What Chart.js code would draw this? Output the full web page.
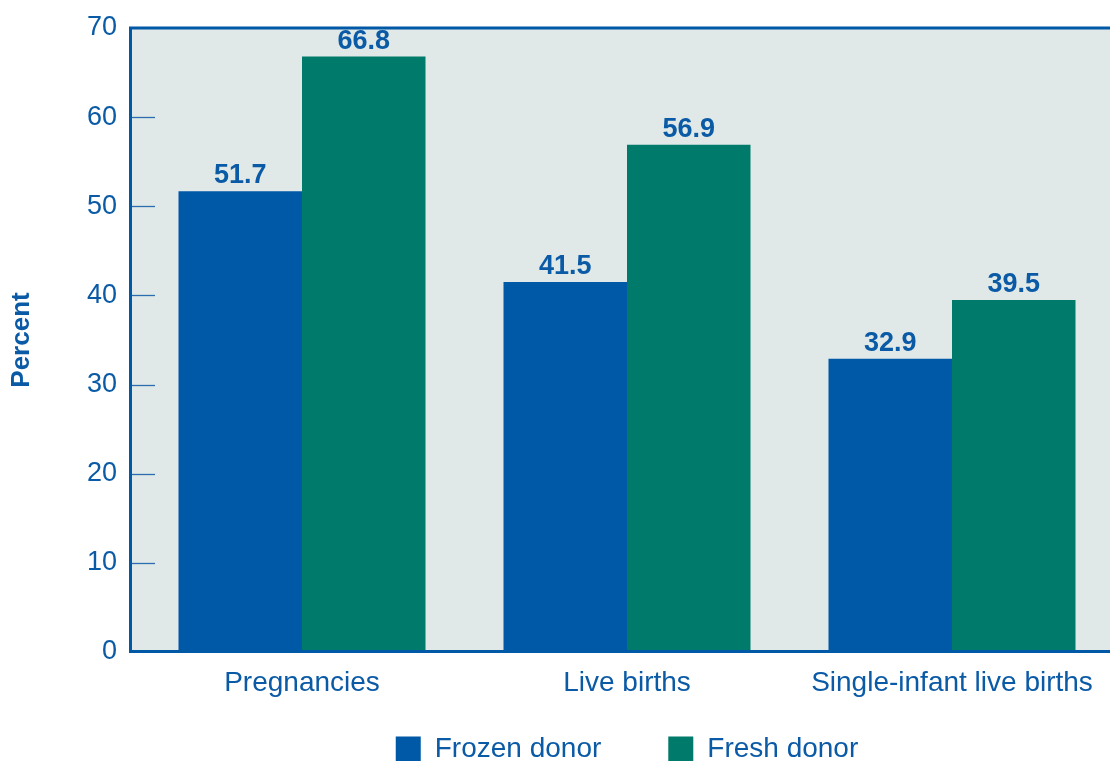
<!DOCTYPE html>
<html>
<head>
<meta charset="utf-8">
<title>Donor egg outcomes</title>
<script src="https://cdn.jsdelivr.net/npm/chart.js@4"></script>
<style>
  html, body { margin: 0; padding: 0; background: #ffffff; overflow: hidden; }
  #wrap { position: relative; width: 1120px; height: 761px; }
</style>
</head>
<body>
<div id="wrap"><canvas id="chart"></canvas></div>
<script>
// Outcome categories and rates (percent) per embryo source
const categories = ['Pregnancies', 'Live births', 'Single-infant live births'];
const frozenDonor = [51.7, 41.5, 32.9];
const freshDonor = [66.8, 56.9, 39.5];
const seriesNames = ['Frozen donor', 'Fresh donor'];
const yTickValues = [0, 10, 20, 30, 40, 50, 60, 70];

// Palette
const BLUE = '#0059a7';
const GREEN = '#007a6b';
const TEXT_BLUE = '#0a5aa6';
const PANEL = '#e0e9e7';
const FONT = '"Liberation Sans", Arial, Helvetica, sans-serif';

// Frame geometry relative to the chart area
const FRAME_INSET = 9;     // axis line sits a little left of the first category band
const AXIS_WIDTH = 3;
const TICK_LEN = 23;

const framePlugin = {
  id: 'plotFrame',
  beforeDatasetsDraw(chart) {
    const { ctx, chartArea: a, scales: { y } } = chart;
    const left = a.left - FRAME_INSET;
    ctx.save();
    ctx.fillStyle = PANEL;
    ctx.fillRect(left, a.top, chart.width - left, a.bottom - a.top);
    // inward tick marks on the value axis
    ctx.strokeStyle = '#2c6cb0';
    ctx.lineWidth = 1.3;
    yTickValues.forEach(v => {
      if (v === y.min || v === y.max) return;
      const py = Math.round(y.getPixelForValue(v)) + 0.5;
      ctx.beginPath();
      ctx.moveTo(left, py);
      ctx.lineTo(left + AXIS_WIDTH / 2 + TICK_LEN, py);
      ctx.stroke();
    });
    ctx.restore();
  },
  afterDatasetsDraw(chart) {
    const { ctx, chartArea: a } = chart;
    const left = a.left - FRAME_INSET;
    ctx.save();
    ctx.strokeStyle = BLUE;
    ctx.lineWidth = AXIS_WIDTH;
    ctx.lineCap = 'square';
    ctx.beginPath();
    ctx.moveTo(chart.width + 2, a.top);
    ctx.lineTo(left, a.top);
    ctx.lineTo(left, a.bottom - 0.5);
    ctx.lineTo(chart.width + 2, a.bottom - 0.5);
    ctx.stroke();
    ctx.restore();
  }
};

// Category names under each bar group, placed by the category scale
const categoryLabelPlugin = {
  id: 'categoryLabels',
  afterDraw(chart) {
    const { ctx, chartArea: a, scales: { x } } = chart;
    ctx.save();
    ctx.font = '28px ' + FONT;
    ctx.fillStyle = TEXT_BLUE;
    ctx.textAlign = 'center';
    ctx.textBaseline = 'alphabetic';
    categories.forEach((name, i) => {
      ctx.fillText(name, x.getPixelForValue(i), a.bottom + 39);
    });
    ctx.restore();
  }
};

const valueLabelPlugin = {
  id: 'valueLabels',
  afterDatasetsDraw(chart) {
    const { ctx } = chart;
    ctx.save();
    ctx.font = 'bold 27px ' + FONT;
    ctx.fillStyle = TEXT_BLUE;
    ctx.textAlign = 'center';
    ctx.textBaseline = 'alphabetic';
    chart.data.datasets.forEach((ds, di) => {
      const meta = chart.getDatasetMeta(di);
      meta.data.forEach((bar, i) => {
        ctx.fillText(ds.data[i].toFixed(1), bar.x, bar.y - 8);
      });
    });
    ctx.restore();
  }
};

new Chart(document.getElementById('chart'), {
  type: 'bar',
  data: {
    labels: categories,
    datasets: [
      { label: seriesNames[0], data: frozenDonor, backgroundColor: BLUE, borderWidth: 0 },
      { label: seriesNames[1], data: freshDonor, backgroundColor: GREEN, borderWidth: 0 }
    ]
  },
  options: {
    responsive: true,
    maintainAspectRatio: false,
    animation: false,
    events: [],
    datasets: { bar: { categoryPercentage: 0.76, barPercentage: 1.0 } },
    layout: { padding: { top: 28, right: 5.5, left: 0, bottom: 0 } },
    scales: {
      x: {
        type: 'category',
        grid: { display: false, drawTicks: false },
        border: { display: false },
        ticks: { display: false },
        afterFit(scale) { scale.height = 16; }
      },
      y: {
        min: 0,
        max: 70,
        grid: { display: false, drawTicks: false },
        border: { display: false },
        afterBuildTicks(scale) { scale.ticks = yTickValues.map(v => ({ value: v })); },
        ticks: {
          color: TEXT_BLUE,
          font: { family: FONT, size: 27 },
          padding: 22.5
        },
        title: {
          display: true,
          text: 'Percent',
          color: TEXT_BLUE,
          font: { family: FONT, size: 26, weight: 'bold' },
          padding: { top: 6, bottom: 0 }
        },
        afterFit(scale) {
          scale.width = 139.5;
          // the top and bottom labels may overhang the plot edges
          scale.paddingTop = 0;
          scale.paddingBottom = 0;
        }
      }
    },
    plugins: {
      legend: {
        position: 'bottom',
        fullSize: false,
        maxHeight: 93,
        labels: {
          boxWidth: 25,
          boxHeight: 25,
          padding: 67,
          color: TEXT_BLUE,
          font: { family: FONT, size: 28 }
        }
      },
      tooltip: { enabled: false }
    }
  },
  plugins: [framePlugin, valueLabelPlugin, categoryLabelPlugin]
});
</script>
</body>
</html>
